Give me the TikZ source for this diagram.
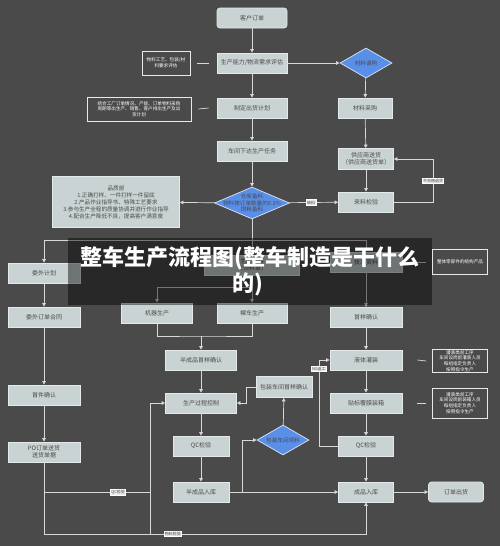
\documentclass[tikz,border=0pt]{standalone}
\usepackage{fontspec}
\newfontfamily\cjk{Noto Sans CJK SC}
\usetikzlibrary{shapes.geometric,arrows.meta,calc}
\definecolor{bgc}{HTML}{4A4A4A}
\definecolor{boxf}{HTML}{C9D3D3}
\definecolor{boxd}{HTML}{E4EAEA}
\definecolor{txt}{HTML}{4A4A4A}
\definecolor{linec}{HTML}{D8D8D8}
\definecolor{diaf}{HTML}{5A8FE8}
\definecolor{diad}{HTML}{DCE6F6}
\tikzset{
  stepbox/.style={rectangle, fill=boxf, draw=boxd, line width=0.7pt, minimum width=70pt, minimum height=20pt, inner sep=1pt, text=txt, align=center, font=\cjk\fontsize{6}{7}\selectfont},
  notebox/.style={rectangle, draw=boxd, line width=0.7pt, text=white, align=center, inner sep=1pt, font=\cjk\fontsize{4.6}{5.6}\selectfont},
  diabox/.style={diamond, fill=diaf, draw=diad, line width=0.7pt, inner sep=0pt},
  diatext/.style={text=txt, align=center, inner sep=0pt, font=\cjk\fontsize{5.6}{6.6}\selectfont},
  conn/.style={draw=linec, line width=0.7pt, -{Triangle[length=3.5pt,width=3.5pt]}},
  plain/.style={draw=linec, line width=0.7pt},
  lbl/.style={fill=white!92!black, draw=white, text=txt, inner sep=0.8pt, font=\cjk\fontsize{4}{5}\selectfont}
}
\begin{document}
\begin{tikzpicture}[x=1pt,y=-1pt]
\useasboundingbox (0,0) rectangle (500,546);
\fill[bgc] (0,0) rectangle (500,546);

% ---- nodes ----
\node[stepbox, rounded corners=3pt] (kh) at (252,18) {客户订单};
\node[stepbox] (pg) at (252,63) {生产能力/物流需求评估};
\node[notebox, minimum width=48pt, minimum height=24pt] (n1) at (166,63) {物料工艺、包装/材\\料要求评估};
\node[diabox, minimum width=52pt, minimum height=30pt] (cq) at (366,63) {};
\node[diatext] (cqt) at (cq.center) {材料请购};
\node[stepbox] (zd) at (252,108) {制定出货计划};
\node[notebox, minimum width=104pt, minimum height=24pt] (n2) at (139,109) {结合工厂订单情况、产能、订单物料采购\\周期等出生产、销售、客户排出生产及出\\货计划};
\node[stepbox, minimum width=54pt] (cg) at (365,108) {材料采购};
\node[stepbox] (rw) at (252,151) {车间下达生产任务};
\node[stepbox, minimum width=55pt, minimum height=21pt] (gy) at (366,159) {供应商送货\\（供应商送货单）};
\node[stepbox, minimum width=55pt] (lj) at (366,202) {来料检验};
\node[diabox, minimum width=75pt, minimum height=32pt] (ck) at (252,203) {};
\node[diatext] (ckt) at (ck.center) {仓库备料\\物料按订单数量的0.3\%\\损耗备料};
\node[stepbox, minimum width=127pt, minimum height=51pt, font=\cjk\fontsize{5.6}{7}\selectfont] (pz) at (116,202) {品质部\\1.正确打样、一件打样一件留底\\2.产品作业指导书、特殊工艺要求\\3.参与生产全程的质量协调并进行作业指导\\4.配合生产降低不良，提高客户满意度};
\node[stepbox, minimum width=72pt] (ww) at (44,273) {委外计划};
\node[stepbox, minimum width=95pt] (ll) at (252,265) {生产领料\\（领料单）};
\node[stepbox, minimum width=72pt] (js) at (366,262) {技术资料};
\node[notebox, minimum width=55pt, minimum height=25pt] (n3) at (460,262) {整体零部件的结构产品};
\node[stepbox, minimum width=71pt] (jq) at (157,313) {机器生产};
\node[stepbox] (lc) at (252,313) {裸车生产};
\node[stepbox, minimum width=72pt] (sy) at (366,317) {首样确认};
\node[stepbox, minimum width=72pt] (wh) at (44,317) {委外订单合同};
\node[stepbox, minimum width=71pt] (bs) at (201,360) {半成品首样确认};
\node[stepbox, minimum width=72pt] (yt) at (366,360) {液体灌装};
\node[notebox, minimum width=55pt, minimum height=23pt] (n4) at (460,361) {灌装类前工序\\车间设岗前灌装人员\\每组指定负责人\\按照指令生产};
\node[stepbox, minimum width=72pt] (sj) at (44,395) {首件确认};
\node[stepbox, minimum width=71pt] (sc) at (201,403) {生产过程控制};
\node[stepbox, minimum width=56pt, minimum height=21pt] (bz) at (284,387) {包装车间首样确认};
\node[stepbox, minimum width=72pt] (tb) at (366,403) {贴标覆膜装箱};
\node[notebox, minimum width=55pt, minimum height=30pt] (n5) at (460,403) {灌装类前工序\\车间设岗前装箱人员\\每组指定负责人\\按照指令生产};
\node[stepbox, minimum width=56pt] (qa) at (201,446) {QC检验};
\node[diabox, minimum width=52pt, minimum height=30pt] (bl) at (283,440) {};
\node[diatext] (blt) at (bl.center) {包装车间领料};
\node[stepbox, minimum width=55pt] (qb) at (366,446) {QC检验};
\node[stepbox, minimum width=72pt] (po) at (44,452) {PO订单送货\\送货单据};
\node[stepbox, minimum width=56pt] (bk) at (201,492) {半成品入库};
\node[stepbox, minimum width=55pt] (cp) at (366,492) {成品入库};
\node[stepbox, minimum width=55pt, rounded corners=3pt] (dd) at (456,492) {订单出货};

% ---- coordinates ----
\coordinate (hub) at (252,240);
\coordinate (m1) at (252,287);
\coordinate (m2) at (201,336);
\coordinate (m3) at (242,492);
\coordinate (r1) at (433,202);
\coordinate (ng) at (319,446);
\coordinate (b1) at (44,534);
\coordinate (b2) at (150,534);
\coordinate (b3) at (44,492);

% ---- connectors ----
\draw[conn] (kh) -- (pg);
\draw[conn] (pg) -- (zd);
\draw[conn] (pg) -- (cq);
\draw[conn] (cq) -- (cg);
\draw[conn] (cg) -- (gy);
\draw[conn] (gy) -- (lj);
\draw[conn] (zd) -- (rw);
\draw[conn] (rw) -- (ck);
\draw[conn] (ck) -- (pz);
\draw[conn] (ck) -- node[lbl, pos=0.45] {缺料} (lj);
\draw[conn] (lj.east) -- (r1) |- node[lbl, pos=0.25] {不合格退货} (gy.east);
\draw[plain] ($(n1.east)+(7,0)$) -- ($(pg.west)+(-8,0)$);
\draw[plain] ($(n2.east)+(7,0)$) -- ($(zd.west)+(-8,0)$);
\draw[plain] (ck.south) -- (hub);
\draw[conn] (hub) -| (ww.north);
\draw[conn] (hub) -- (ll);
\draw[conn] (hub) -| (js.north);
\draw[conn] (js) -- (sy);
\draw[plain] ($(js.east)+(15,0)$) -- ($(n3.west)+(-6,0)$);
\draw[conn] (ll) -- (lc);
\draw[conn] (m1) -| (jq.north);
\draw[conn] (ww) -- (wh);
\draw[conn] (wh) -- (sj);
\draw[conn] (sj) -- (po);
\draw[plain] (jq.south) |- (m2) -| (lc.south);
\draw[conn] (m2) -- (bs);
\draw[conn] (bs) -- (sc);
\draw[conn] (sc) -- (qa);
\draw[conn] (qa) -- (bk);
\draw[conn] (bk) -- (cp);
\draw[conn] (m3) |- (bl.west);
\draw[conn] (bl) -- (bz);
\draw[conn] (bz.west) -- ++(-9,0) |- (sc.east);
\draw[conn] (sy) -- (yt);
\draw[conn] (yt) -- (tb);
\draw[conn] (tb) -- (qb);
\draw[conn] (qb) -- (cp);
\draw[conn] (cp) -- (dd);
\draw[conn] (qb.west) -- (ng) |- node[lbl, pos=0.45] {NG返工} (yt.west);
\draw[plain] ($(yt.east)+(15,0)$) -- ($(n4.west)+(-6,0)$);
\draw[plain] ($(tb.east)+(15,0)$) -- ($(n5.west)+(-6,0)$);
\draw[conn] (po.south) -- (b1) -| node[lbl, pos=0.2] {物料检验} (cp.south);
\draw[plain] (b3) -- node[lbl, pos=0.7] {QC检验} (150,492);
\draw[conn] (b2) |- (sc.west);

% ---- title banner ----
\fill[black, opacity=0.45] (68,238) rectangle (432,305);
\node[text=white, font=\cjk\bfseries\fontsize{22}{26}\selectfont, inner sep=0pt] (t1) at (250,258) {整车生产流程图(整车制造是干什么};
\node[text=white, font=\cjk\bfseries\fontsize{22}{26}\selectfont, inner sep=0pt] (t2) at (248,284) {的)};
\end{tikzpicture}
\end{document}
